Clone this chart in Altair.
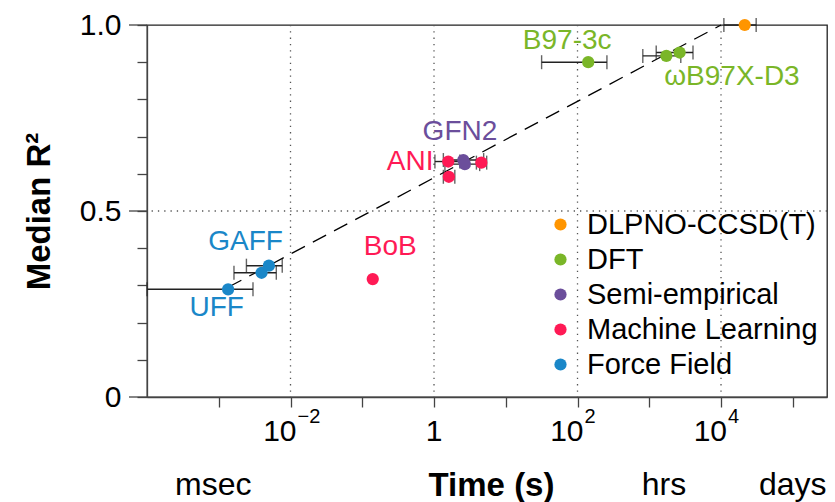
import altair as alt
import pandas as pd

# Method families (legend order) and their colours
families = ["DLPNO-CCSD(T)", "DFT", "Semi-empirical", "Machine Learning", "Force Field"]
family_colors = ["#FF9500", "#7AB628", "#6B4E9B", "#FF1A55", "#1A87C8"]

# Benchmark results: wall time (s), median R^2 and time spread (low / high)
pt_family = ["DLPNO-CCSD(T)", "DFT", "DFT", "DFT",
             "Semi-empirical", "Semi-empirical",
             "Machine Learning", "Machine Learning", "Machine Learning", "Machine Learning",
             "Force Field", "Force Field", "Force Field"]
pt_time = [21400, 141, 1730, 2650, 2.56, 2.69, 1.58, 4.57, 1.61, 0.14, 1.35e-3, 3.95e-3, 5.0e-3]
pt_r2 = [1.0, 0.90, 0.917, 0.926, 0.637, 0.626, 0.633, 0.630, 0.592, 0.317, 0.2895, 0.334, 0.353]
pt_lo = [10960, 31.6, 813, 1250, 1.35, 1.42, 1.03, 3.90, 1.35, None, 1e-4, 1.63e-3, 2.43e-3]
pt_hi = [30900, 257, 2750, 4070, 4.92, 4.33, 2.29, 5.42, 1.95, None, 3.0e-3, 6.34e-3, 7.67e-3]

# Method name annotations
lab_text = ["B97-3c", "ωB97X-D3", "GFN2", "ANI", "BoB", "GAFF", "UFF"]
lab_family = ["DFT", "DFT", "Semi-empirical", "Machine Learning", "Machine Learning",
              "Force Field", "Force Field"]
lab_time = [71.8, 14200, 2.30, 0.464, 0.245, 2.37e-3, 9.38e-4]
lab_r2 = [0.958, 0.860, 0.713, 0.6325, 0.403, 0.4175, 0.238]

# Cost/accuracy trend line end points
trend_time = [1.35e-3, 1.0e4]
trend_r2 = [0.295, 1.0]

# Time unit markers under the axis
unit_text = ["msec", "hrs", "days"]
unit_time = [8.4e-4, 1.6e3, 1.0e5]

# Axis ticks, tick labels (power-of-ten) and grid positions
x_ticks = [1e-3, 1e-2, 1e-1, 1, 1e1, 1e2, 1e3, 1e4, 1e5]
pow_time = [1e-2, 1e2, 1e4]
pow_exp = ["−2", "2", "4"]
unit_tick_time = [1]
y_ticks = [0, 0.1, 0.2, 0.3, 0.4, 0.5, 0.6, 0.7, 0.8, 0.9, 1.0]
y_major = [0, 0.5, 1.0]
grid_time = [1e-2, 1, 1e2, 1e4]
grid_r2 = [0.5]

W, H = 680, 372
FONT = "Liberation Sans"

points = pd.DataFrame({"family": pt_family, "t": pt_time, "r2": pt_r2, "lo": pt_lo, "hi": pt_hi})
errs = points.dropna(subset=["lo", "hi"])
caps = pd.concat([
    pd.DataFrame({"t": errs["lo"], "r2": errs["r2"]}),
    pd.DataFrame({"t": errs["hi"], "r2": errs["r2"]}),
])
labels = pd.DataFrame({"text": lab_text, "family": lab_family, "t": lab_time, "r2": lab_r2})
trend = pd.DataFrame({"t": trend_time, "r2": trend_r2})
units = pd.DataFrame({"text": unit_text, "t": unit_time})
pows = pd.DataFrame({"t": pow_time, "base": ["10"] * len(pow_time), "exp": pow_exp})
ones = pd.DataFrame({"t": unit_tick_time, "text": ["1"]})

x_scale = alt.Scale(type="log", domain=[1e-4, 3e5], nice=False)
y_scale = alt.Scale(domain=[0, 1], nice=False, zero=False)

y_label_expr = (
    "abs(datum.value) < 1e-6 ? '0' : "
    "abs(datum.value - 0.5) < 1e-6 ? '0.5' : "
    "abs(datum.value - 1) < 1e-6 ? '1.0' : ''"
)

x_axis = alt.Axis(
    values=x_ticks, labels=False, tickSize=10, grid=False,
    title="Time (s)", titleFontSize=33, titleFontWeight="bold",
    titleX=344, titleY=88, titleAlign="center", titleBaseline="middle",
)
y_axis = alt.Axis(
    values=y_ticks, labelExpr=y_label_expr, tickSize=10, labelPadding=16,
    labelFontSize=30, labelOverlap=False, labelFlush=False, grid=False,
    title="Median R²", titleFontSize=33, titleFontWeight="bold",
    titleX=-108, titleY=H / 2, titleAngle=270, titleAlign="center",
    titleBaseline="middle",
)

# Every layer shares the same scales and axis definitions
base_x = alt.X("t:Q", scale=x_scale, axis=x_axis)
base_y = alt.Y("r2:Q", scale=y_scale, axis=y_axis)

dotted = dict(color="#555", strokeDash=[1.3, 5], strokeWidth=1.3)

vgrid = alt.Chart(pd.DataFrame({"t": grid_time})).mark_rule(**dotted).encode(x=base_x)
hgrid = alt.Chart(pd.DataFrame({"r2": grid_r2})).mark_rule(**dotted).encode(y=base_y)

major_ticks = alt.Chart(pd.DataFrame({"r2": y_major})).mark_rule(
    color="#444", strokeWidth=1.3
).encode(y=base_y, x=alt.value(-18), x2=alt.value(0))

# Power-of-ten tick labels: mantissa plus raised exponent
pow_base = alt.Chart(pows).mark_text(
    fontSize=30, font=FONT, color="black", align="right", baseline="middle", dx=6
).encode(x=base_x, y=alt.value(H + 35), text="base:N")
pow_sup = alt.Chart(pows).mark_text(
    fontSize=20, font=FONT, color="black", align="left", baseline="middle", dx=7
).encode(x=base_x, y=alt.value(H + 20), text="exp:N")
one_label = alt.Chart(ones).mark_text(
    fontSize=30, font=FONT, color="black", baseline="middle"
).encode(x=base_x, y=alt.value(H + 35), text="text:N")

trend_line = alt.Chart(trend).mark_line(
    color="black", strokeDash=[15, 9], strokeWidth=1.3
).encode(x=base_x, y=base_y)

err_rules = alt.Chart(errs).mark_rule(color="#222", strokeWidth=1.4).encode(
    x=alt.X("lo:Q", scale=x_scale, axis=x_axis), x2="hi:Q", y=base_y,
)
err_caps = alt.Chart(caps).mark_tick(
    color="#222", orient="vertical", size=14, thickness=1.4
).encode(x=base_x, y=base_y)

dots = alt.Chart(points).mark_circle(size=150, opacity=1).encode(
    x=base_x, y=base_y,
    color=alt.Color(
        "family:N", sort=families,
        scale=alt.Scale(domain=families, range=family_colors),
        legend=alt.Legend(
            title=None, orient="none", legendX=399, legendY=185, padding=0,
            labelFontSize=29, labelFont=FONT, labelColor="black",
            symbolType="circle", symbolSize=150, symbolStrokeWidth=0,
            labelOffset=12, rowPadding=5, labelLimit=400,
        ),
    ),
)

names = alt.Chart(labels).mark_text(fontSize=28, font=FONT, baseline="middle").encode(
    x=base_x, y=base_y, text="text:N",
    color=alt.Color("family:N", scale=alt.Scale(domain=families, range=family_colors), legend=None),
)

unit_marks = alt.Chart(units).mark_text(fontSize=32, font=FONT, color="black", baseline="middle").encode(
    x=base_x, y=alt.value(460), text="text:N",
)

chart = alt.layer(
    vgrid, hgrid, major_ticks, trend_line, err_rules, err_caps, dots, names,
    pow_base, pow_sup, one_label, unit_marks
).resolve_scale(color="independent").properties(
    width=W, height=H,
    padding={"left": 147, "top": 25, "right": 8, "bottom": 105},
    autosize=alt.AutoSizeParams(type="none"),
    background="white",
).configure_view(
    stroke="#222", strokeWidth=1.3,
).configure_axis(
    domainColor="#444", tickColor="#444", domainWidth=1.3, tickWidth=1.3,
    labelColor="black", titleColor="black", labelFont=FONT, titleFont=FONT,
)

chart.save("out.html", embed_options={"renderer": "svg", "actions": False})
